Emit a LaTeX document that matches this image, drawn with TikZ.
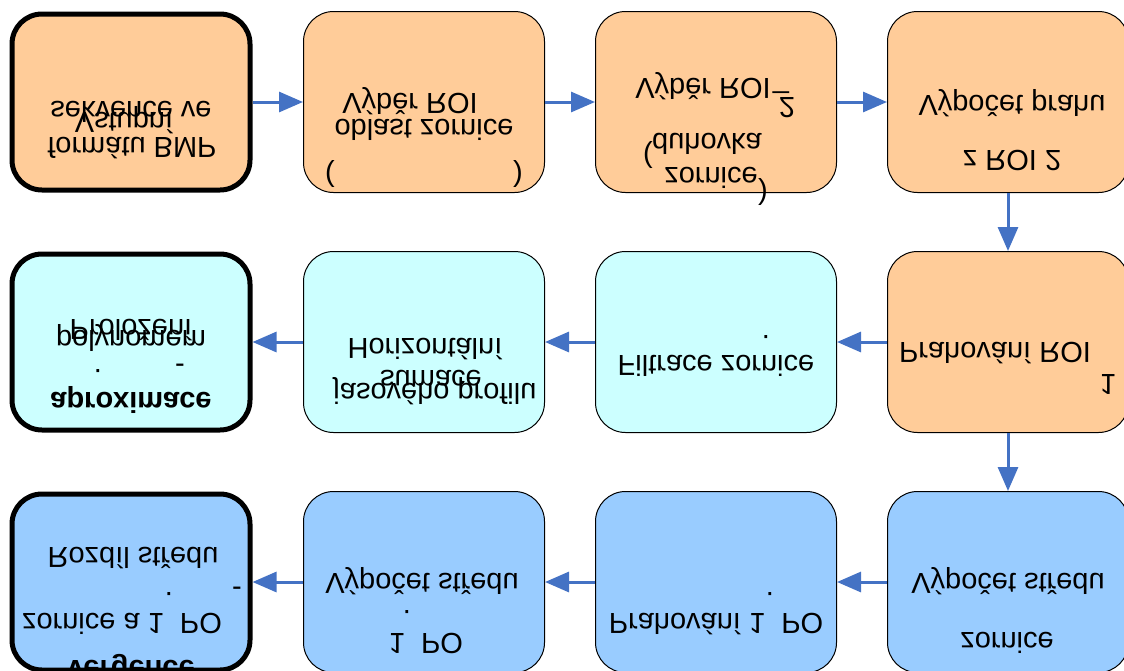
\documentclass[tikz,border=0pt]{standalone}
\usepackage{fontspec}
\usepackage{graphicx}
\setmainfont{Liberation Sans}
\usetikzlibrary{arrows.meta}

\definecolor{peach}{RGB}{255,204,153}
\definecolor{paleaqua}{RGB}{204,255,255}
\definecolor{skyblue}{RGB}{153,204,255}
\definecolor{arrowblue}{RGB}{68,114,196}

\newcommand{\boxfont}{\fontsize{29}{34}\selectfont}
\newcommand{\flipped}[1]{\scalebox{1}[-1]{#1}}

\tikzset{
  stage/.style={draw, rounded corners=30pt, minimum width=241pt, minimum height=181pt, inner sep=0pt, line width=1pt},
  endstage/.style={stage, line width=5pt, minimum width=238pt, minimum height=176pt},
  flow/.style={draw=arrowblue, line width=3pt, -{Triangle[length=24pt,width=20pt]}},
  txt/.style={anchor=base, inner sep=0pt, font=\boxfont}
}

\begin{document}
\begin{tikzpicture}[x=1pt, y=-1pt]
        \clip (0,0) rectangle (1124,670);

        % Define the stages
        \node[endstage, fill=peach] (vstup) at (131,102) {};
        \node[stage, fill=peach] (roiA) at (424,102) {};
        \node[stage, fill=peach] (roiB) at (716,102) {};
        \node[stage, fill=peach] (prah) at (1008,102) {};

        \node[endstage, fill=paleaqua] (aprox) at (131,342) {};
        \node[stage, fill=paleaqua] (sumace) at (424,342) {};
        \node[stage, fill=paleaqua] (filtrace) at (716,342) {};
        \node[stage, fill=peach] (prahovani) at (1008,342) {};

        \node[endstage, fill=skyblue] (vergence) at (131,582) {};
        \node[stage, fill=skyblue] (stredPO) at (424,582) {};
        \node[stage, fill=skyblue] (prahPO) at (716,582) {};
        \node[stage, fill=skyblue] (stredZ) at (1008,582) {};

        % Texts of the first row
        \node[txt] (vstup1) at (131,101) {\flipped{sekvence ve}};
        \node[txt] (vstup2) at (124,112) {\flipped{Vstupní}};
        \node[txt] (vstup3) at (132,137) {\flipped{formátu BMP}};

        \node[txt] (roiA1) at (410,93) {\flipped{Výběr ROI}};
        \node[txt] (roiA2) at (424,119) {\flipped{oblast zornice}};
        \node[txt] (roiA3) at (330,166) {\flipped{(}};
        \node[txt] (roiA4) at (518,166) {\flipped{)}};

        \node[txt] (roiB1) at (703,78) {\flipped{Výběr ROI}};
        \node[txt] (roiB2) at (784,97) {\flipped{\_\kern-0.35em2}};
        \node[txt] (roiB3) at (648,147) {\flipped{(}};
        \node[txt] (roiB4) at (707,133) {\flipped{duhovka}};
        \node[txt] (roiB5) at (711,167) {\flipped{zornice}};
        \node[txt] (roiB6) at (763,184) {\flipped{)}};

        \node[txt] (prah1) at (1012,95) {\flipped{Výpočet prahu}};
        \node[txt] (prah2) at (1012,150) {\flipped{z ROI 2}};

        % Texts of the second row
        \node[txt] (aprox1) at (131,319) {\flipped{Proložení}};
        \node[txt] (aprox2) at (131,330) {\flipped{polynomem}};
        \node[txt] (aprox3) at (98,369) {\flipped{.}};
        \node[txt] (aprox4) at (180,357) {\flipped{-}};
        \node[txt] (aprox5) at (131,392) {\flipped{\bfseries aproximace}};

        \node[txt] (sumace1) at (425,338) {\flipped{Horizontální}};
        \node[txt] (sumace2) at (431,370) {\flipped{sumace}};
        \node[txt] (sumace3) at (435,383) {\flipped{jasového profilu}};

        \node[txt] (filtrace1) at (716,355) {\flipped{Filtrace zornice}};
        \node[txt] (filtrace2) at (766,335) {\flipped{.}};

        \node[txt] (prahovani1) at (995,342) {\flipped{Prahování ROI}};
        \node[txt] (prahovani2) at (1108,374) {\flipped{1}};

        % Texts of the third row
        \node[txt] (vergence1) at (133,547) {\flipped{Rozdíl středu}};
        \node[txt] (vergence2) at (237,580) {\flipped{-}};
        \node[txt] (vergence3) at (169,592) {\flipped{.}};
        \node[txt] (vergence4) at (122,613) {\flipped{zornice a 1\phantom{.} PO}};
        \node[txt] (vergence5) at (131,660) {\flipped{\bfseries vergence}};

        \node[txt] (stredPO1) at (422,573) {\flipped{Výpočet středu}};
        \node[txt] (stredPO2) at (407,610) {\flipped{.}};
        \node[txt] (stredPO3) at (426,633) {\flipped{1\phantom{.} PO}};

        \node[txt] (prahPO1) at (770,592) {\flipped{.}};
        \node[txt] (prahPO2) at (716,613) {\flipped{Prahování 1\phantom{.} PO}};

        \node[txt] (stredZ1) at (1008,573) {\flipped{Výpočet středu}};
        \node[txt] (stredZ2) at (1007,632) {\flipped{zornice}};

        % Draw arrows
        \draw[flow] (vstup) -- (roiA);
        \draw[flow] (roiA) -- (roiB);
        \draw[flow] (roiB) -- (prah);
        \draw[flow] (prah) -- (prahovani);
        \draw[flow] (prahovani) -- (filtrace);
        \draw[flow] (filtrace) -- (sumace);
        \draw[flow] (sumace) -- (aprox);
        \draw[flow] (prahovani) -- (stredZ);
        \draw[flow] (stredZ) -- (prahPO);
        \draw[flow] (prahPO) -- (stredPO);
        \draw[flow] (stredPO) -- (vergence);
    \end{tikzpicture}
\end{document}
